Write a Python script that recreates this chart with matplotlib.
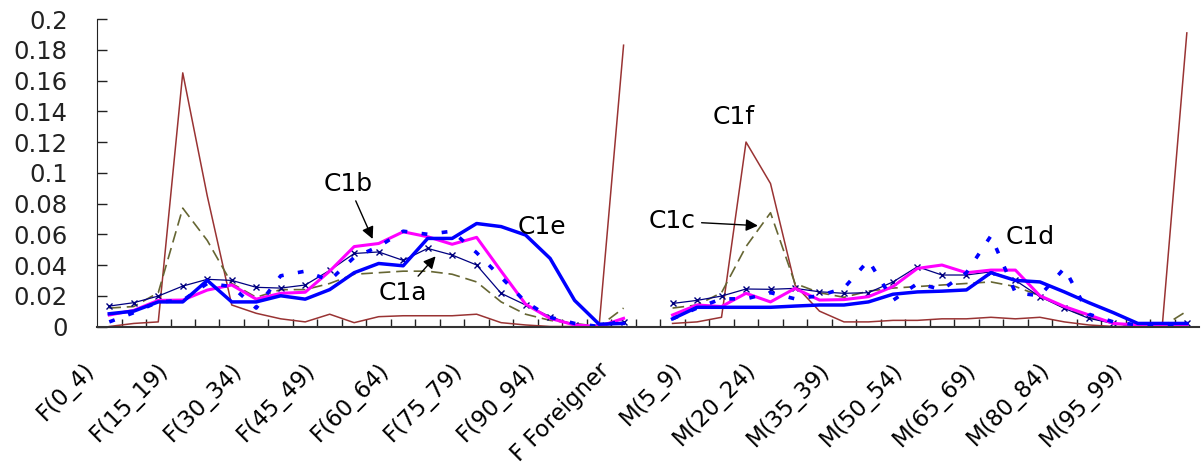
import numpy as np
import matplotlib
matplotlib.use("Agg")
import matplotlib.pyplot as plt
from matplotlib.transforms import ScaledTranslation

# category labels: F ages, F Foreigner, gap, M ages, M Foreigner
ages = ["0_4", "5_9", "10_14", "15_19", "20_24", "25_29", "30_34", "35_39", "40_44", "45_49",
        "50_54", "55_59", "60_64", "65_69", "70_74", "75_79", "80_84", "85_89", "90_94", "95_99", "100_"]
labels = ["F(" + a + ")" for a in ages] + ["F Foreigner", ""] + ["M(" + a + ")" for a in ages] + ["M Foreigner"]

nan = np.nan

c1f_f = [0.0, 0.002, 0.003, 0.165, 0.085, 0.014, 0.0086, 0.005, 0.003, 0.008, 0.0025, 0.0064, 0.007, 0.007,
         0.007, 0.008, 0.0025, 0.001, 0.0, 0.0, 0.0, 0.183]
c1f_m = [0.002, 0.003, 0.006, 0.120, 0.093, 0.027, 0.010, 0.003, 0.003, 0.004, 0.004, 0.005, 0.005, 0.006,
         0.005, 0.006, 0.003, 0.001, 0.0, 0.0, 0.001, 0.191]

c1c_f = [0.012, 0.013, 0.022, 0.077, 0.056, 0.028, 0.019, 0.024, 0.024, 0.028, 0.034, 0.035, 0.036, 0.036,
         0.034, 0.029, 0.016, 0.008, 0.004, 0.002, 0.0, 0.012]
c1c_m = [0.012, 0.014, 0.022, 0.052, 0.074, 0.028, 0.022, 0.019, 0.023, 0.025, 0.026, 0.027, 0.028, 0.029,
         0.026, 0.02, 0.012, 0.006, 0.002, 0.0, 0.0, 0.01]

c1a_f = [0.0133, 0.0155, 0.0198, 0.0263, 0.0307, 0.030, 0.0255, 0.025, 0.027, 0.0365, 0.0475, 0.0485, 0.043,
         0.0508, 0.0465, 0.040, 0.0216, 0.014, 0.0064, 0.001, 0.0, 0.003]
c1a_m = [0.015, 0.017, 0.0198, 0.0244, 0.0242, 0.0248, 0.0226, 0.0216, 0.022, 0.029, 0.0389, 0.0335, 0.0335,
         0.0356, 0.030, 0.0194, 0.0118, 0.0053, 0.002, 0.0, 0.0, 0.002]

c1b_f = [0.0075, 0.0105, 0.017, 0.0172, 0.0237, 0.027, 0.0178, 0.0216, 0.0223, 0.036, 0.052, 0.054, 0.0616,
         0.0584, 0.0535, 0.058, 0.036, 0.0145, 0.0053, 0.001, 0.0, 0.0053]
c1b_m = [0.0075, 0.014, 0.013, 0.0216, 0.016, 0.0248, 0.0172, 0.0175, 0.0194, 0.026, 0.0378, 0.040, 0.035,
         0.0367, 0.0367, 0.02, 0.013, 0.0075, 0.002, 0.001, 0.001, 0.001]

c1e_f = [0.0083, 0.010, 0.016, 0.016, 0.030, 0.016, 0.016, 0.020, 0.0178, 0.024, 0.035, 0.041, 0.0395, 0.0573,
         0.0573, 0.067, 0.065, 0.0595, 0.0443, 0.017, 0.0015, 0.002]
c1e_m = [0.005, 0.0125, 0.0125, 0.0125, 0.0125, 0.0133, 0.014, 0.014, 0.016, 0.021, 0.0225, 0.023, 0.0238,
         0.035, 0.030, 0.029, 0.0225, 0.0155, 0.009, 0.002, 0.002, 0.002]

c1d_f = [0.003, 0.009, 0.016, 0.017, 0.028, 0.026, 0.012, 0.033, 0.036, 0.030, 0.045, 0.052, 0.062, 0.060,
         0.062, 0.048, 0.032, 0.016, 0.006, 0.002, 0.0, 0.004]
c1d_m = [0.005, 0.012, 0.018, 0.018, 0.022, 0.018, 0.02, 0.025, 0.043, 0.017, 0.028, 0.024, 0.035, 0.059,
         0.022, 0.02, 0.038, 0.008, 0.003, 0.001, 0.001, 0.002]

x = np.arange(len(labels))

def full(f, m):
    return np.array(f + [nan] + m)

fig = plt.figure(figsize=(12.01, 4.73), dpi=100)
ax = fig.add_axes([0.0808, 0.3097, 0.9176, 0.650])

ax.plot(x, full(c1f_f, c1f_m), color="#993333", lw=1.1)
ax.plot(x, full(c1c_f, c1c_m), color="#666633", lw=1.2, dashes=(7, 3.5))
ax.plot(x, full(c1a_f, c1a_m), color="#000080", lw=0.9, marker="x", ms=5, mew=1)
ax.plot(x, full(c1b_f, c1b_m), color="#FF00FF", lw=2.2)
ax.plot(x, full(c1d_f, c1d_m), color="#0000FF", lw=2.6, dashes=(1.6, 4))
ax.plot(x, full(c1e_f, c1e_m), color="#0000FF", lw=2.5)

ax.set_xlim(-0.5, len(labels) - 0.5)
ax.set_ylim(0, 0.2)

yt = np.arange(0, 0.201, 0.02)
ax.set_yticks(yt)
ax.set_yticklabels(["%g" % round(v, 2) for v in yt], fontsize=17.5)
ax.tick_params(axis="y", direction="in", length=7, width=1, pad=21, colors="#222222")

ax.set_xticks(x[::3])
ax.set_xticklabels(labels[::3], rotation=45, ha="right", va="top", rotation_mode="anchor", fontsize=16.5)
ax.set_xticks(np.arange(0.5, len(labels) - 0.5, 1), minor=True)
ax.tick_params(axis="x", which="major", length=0, pad=23)
ax.tick_params(axis="x", which="minor", direction="in", length=6, width=1, color="#222222")
off = ScaledTranslation(-0.26, 0, fig.dpi_scale_trans)
for lab in ax.get_xticklabels():
    lab.set_transform(lab.get_transform() + off)

for s in ["top", "right"]:
    ax.spines[s].set_visible(False)
ax.spines["left"].set_color("#222222")
ax.spines["bottom"].set_color("#333333")
ax.spines["bottom"].set_linewidth(1.5)

arr = dict(arrowstyle="-|>", color="black", lw=1, mutation_scale=18)
ax.annotate("C1b", xy=(10.8, 0.0553), xytext=(9.75, 0.093), fontsize=18, ha="center", va="center", arrowprops=arr)
ax.annotate("C1a", xy=(13.4, 0.047), xytext=(12.0, 0.0218), fontsize=18, ha="center", va="center", arrowprops=arr)
ax.annotate("C1c", xy=(26.6, 0.0655), xytext=(23.0, 0.0685), fontsize=18, ha="center", va="center", arrowprops=arr)
ax.text(17.65, 0.0645, "C1e", fontsize=18, ha="center", va="center")
ax.text(25.5, 0.1365, "C1f", fontsize=18, ha="center", va="center")
ax.text(37.6, 0.058, "C1d", fontsize=18, ha="center", va="center")

fig.savefig("out.png", dpi=100)
